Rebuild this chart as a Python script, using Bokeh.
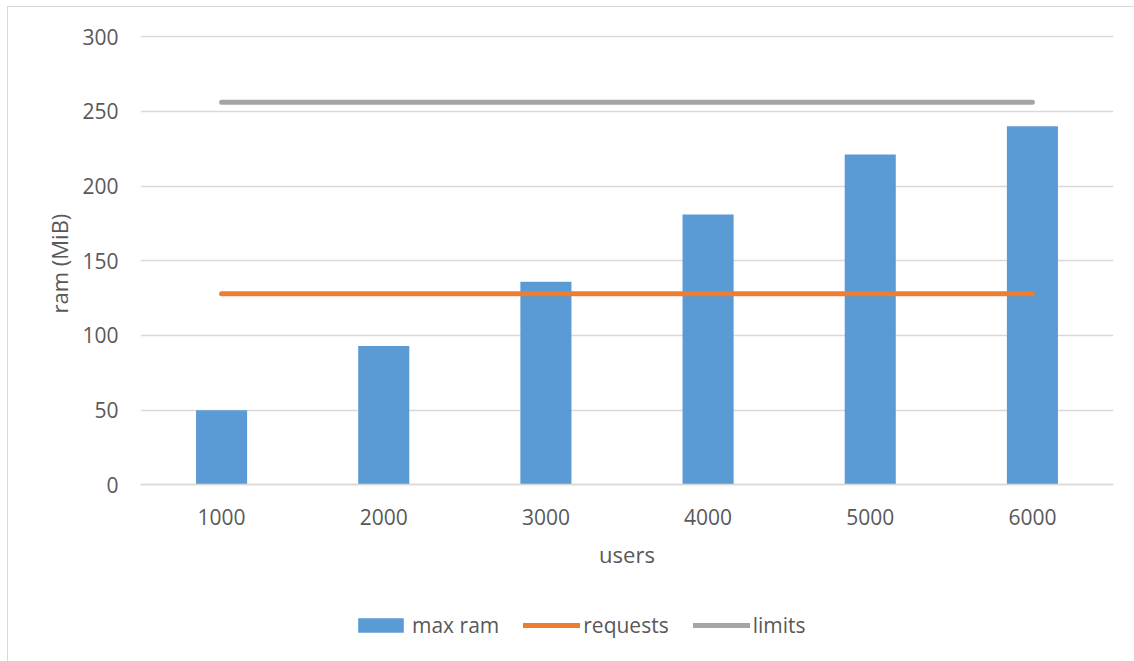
from bokeh.plotting import figure
from bokeh.models import FactorRange, Range1d, Legend, LegendItem, FixedTicker, Title
from bokeh.embed import file_html
from bokeh.resources import INLINE

# users per test run (categories) and memory figures in MiB
users = ["1000", "2000", "3000", "4000", "5000", "6000"]
max_ram = [50, 93, 136, 181, 221, 240]
requests = [128, 128, 128, 128, 128, 128]
limits = [256, 256, 256, 256, 256, 256]
y_ticks = [0, 50, 100, 150, 200, 250, 300]

FONT = "Open Sans"
TEXT = "#595959"
GRID = "#D9D9D9"

# the plotting frame reaches down to the legend row; the value axis spans 0..300
p = figure(
    width=1134, height=661,
    x_range=FactorRange(factors=users, range_padding=0),
    y_range=Range1d(-114.05, 300.67),
    output_backend="svg", toolbar_location=None,
    min_border_left=140, min_border_right=21,
    min_border_top=35, min_border_bottom=6,
)
p.outline_line_color = None
p.background_fill_color = "white"
p.border_fill_color = None
# thin light frame around the chart area (left and top edges)
p.styles = {
    "background": (
        f"linear-gradient({GRID},{GRID}) 7px 6px / 1px 100% no-repeat, "
        f"linear-gradient({GRID},{GRID}) 7px 6px / 100% 1px no-repeat, white"
    )
}

bars = p.vbar(x=users, top=max_ram, width=0.315, fill_color="#5B9BD5", line_color=None)
req = p.line(x=users, y=requests, line_color="#ED7D31", line_width=5, line_cap="round")
lim = p.line(x=users, y=limits, line_color="#A5A5A5", line_width=5, line_cap="round")

# grid and axes
p.xgrid.grid_line_color = None
p.ygrid.grid_line_color = GRID
p.ygrid.grid_line_width = 1.3
p.yaxis.ticker = FixedTicker(ticks=y_ticks)

for ax in (p.xaxis[0], p.yaxis[0]):
    ax.major_tick_line_color = None
    ax.minor_tick_line_color = None
    ax.major_label_text_font = FONT
    ax.major_label_text_font_size = "21px"
    ax.major_label_text_color = TEXT
    ax.axis_label_text_font = FONT
    ax.axis_label_text_font_size = "22px"
    ax.axis_label_text_color = TEXT
    ax.axis_label_text_font_style = "normal"

p.yaxis.axis_line_color = None
p.xaxis.fixed_location = 0
p.xaxis.axis_line_color = GRID
p.xaxis.axis_line_width = 1.3
p.xaxis.axis_label = "users"
p.xaxis.major_label_standoff = 18
p.xaxis.axis_label_standoff = 11
p.yaxis.major_label_standoff = 16

# value-axis title, placed beside the 0..300 span
p.add_layout(Title(
    text="ram (MiB)", align="left", offset=342, standoff=12,
    text_font=FONT, text_font_size="22px", text_font_style="normal", text_color=TEXT,
), "left")

legend = Legend(
    items=[
        LegendItem(label="max ram", renderers=[bars]),
        LegendItem(label="requests", renderers=[req]),
        LegendItem(label="limits", renderers=[lim]),
    ],
    orientation="horizontal",
    location=(212, 16),
    glyph_width=57, glyph_height=18,
    label_standoff=3, spacing=24,
    padding=0, margin=0,
    border_line_color=None, background_fill_alpha=0,
    label_text_font=FONT, label_text_font_size="21px", label_text_color=TEXT,
)
p.add_layout(legend, "center")

open("out.html", "w").write(file_html(p, INLINE))
